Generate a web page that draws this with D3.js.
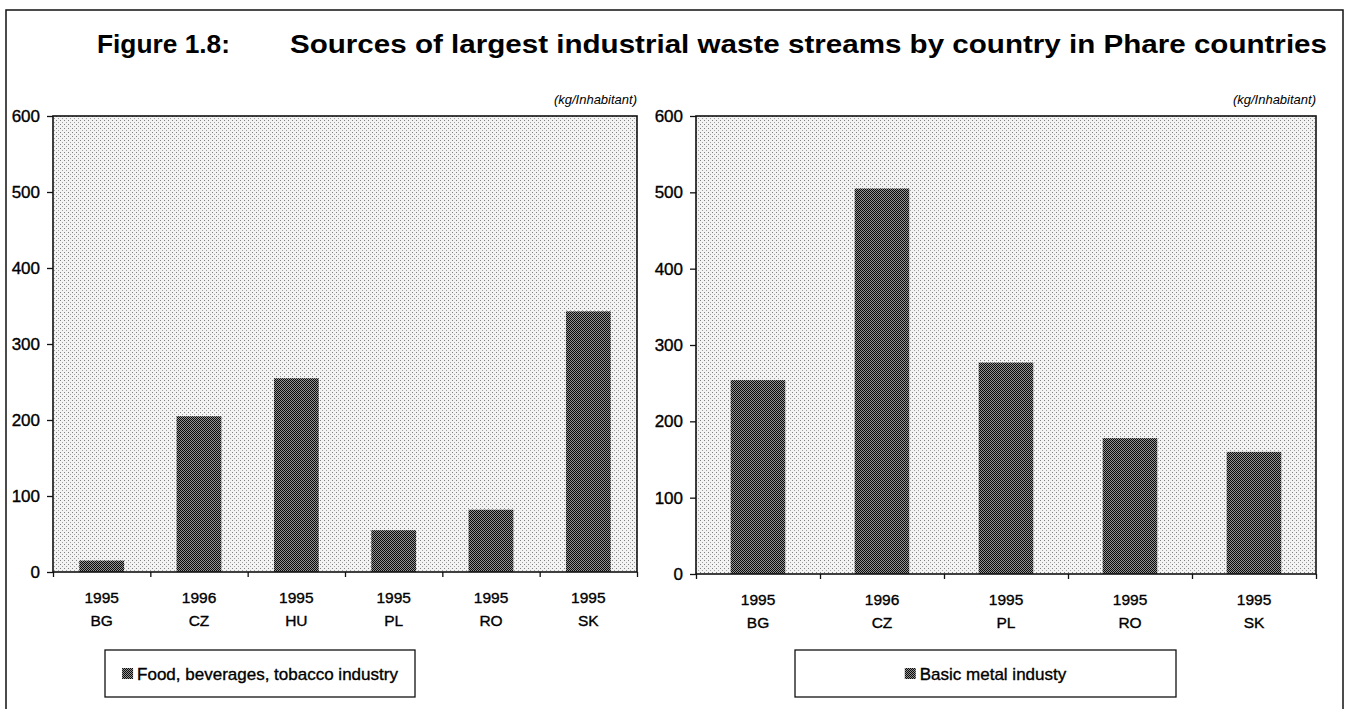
<!DOCTYPE html>
<html>
<head>
<meta charset="utf-8">
<script src="https://cdn.jsdelivr.net/npm/d3@7"></script>
<style>
	body { margin: 0; background: #fff; }
	text { font-family: "Liberation Sans", Arial, sans-serif; fill: #000; }
	.heavy { stroke: #000; stroke-width: 0.35px; }
</style>
</head>
<body>
<div id="chart"></div>
<script>

// Left panel: food, beverages, tobacco industry
const leftCountries = ["BG", "CZ", "HU", "PL", "RO", "SK"];
const leftYears = ["1995", "1996", "1995", "1995", "1995", "1995"];
const leftValues = [15, 205, 255, 55, 82, 343];
const leftSeries = "Food, beverages, tobacco industry";

// Right panel: basic metal industry
const rightCountries = ["BG", "CZ", "PL", "RO", "SK"];
const rightYears = ["1995", "1996", "1995", "1995", "1995"];
const rightValues = [254, 505, 277, 178, 160];
const rightSeries = "Basic metal industy";

const yTicks = [0, 100, 200, 300, 400, 500, 600];
const unitLabel = "(kg/Inhabitant)";
const figLabel = "Figure 1.8:";
const titleText = "Sources of largest industrial waste streams by country in Phare countries";

const W = 1347, H = 709;

const svg = d3.select("#chart").append("svg")
	.attr("width", W)
	.attr("height", H);

// patterns to mimic the printed halftone
const defs = svg.append("defs");

const bg = defs.append("pattern")
	.attr("id", "bgPat")
	.attr("width", 4).attr("height", 4)
	.attr("patternUnits", "userSpaceOnUse");
bg.append("rect").attr("width", 4).attr("height", 4).attr("fill", "#f3f3f3");
bg.append("rect").attr("x", 0).attr("y", 0).attr("width", 1).attr("height", 1).attr("fill", "#808080");
bg.append("rect").attr("x", 2).attr("y", 2).attr("width", 1).attr("height", 1).attr("fill", "#a0a0a0");

const bar = defs.append("pattern")
	.attr("id", "barPat")
	.attr("width", 2).attr("height", 2)
	.attr("patternUnits", "userSpaceOnUse");
bar.append("rect").attr("width", 2).attr("height", 2).attr("fill", "#939393");
bar.append("rect").attr("x", 0).attr("y", 0).attr("width", 1).attr("height", 1).attr("fill", "#0a0a0a");
bar.append("rect").attr("x", 1).attr("y", 1).attr("width", 1).attr("height", 1).attr("fill", "#0a0a0a");

// outer frame (bottom edge runs off the page)
svg.append("rect")
	.attr("x", 6).attr("y", 10)
	.attr("width", 1337).attr("height", 720)
	.attr("fill", "none")
	.attr("stroke", "#111")
	.attr("stroke-width", 1.5);

// title, glyphs stretched a little like the scanned original
svg.append("text")
	.attr("x", 97).attr("y", 53)
	.attr("textLength", 133)
	.attr("lengthAdjust", "spacingAndGlyphs")
	.style("font-size", "25px")
	.style("font-weight", "bold")
	.text(figLabel);

svg.append("text")
	.attr("x", 290).attr("y", 53)
	.attr("textLength", 1037)
	.attr("lengthAdjust", "spacingAndGlyphs")
	.style("font-size", "25px")
	.style("font-weight", "bold")
	.text(titleText);

function drawPanel(cfg) {
	const x = d3.scaleBand()
		.domain(cfg.countries)
		.range([cfg.left, cfg.right])
		.paddingInner(cfg.pad)
		.paddingOuter(cfg.pad / 2);

	const y = d3.scaleLinear()
		.domain([0, 600])
		.range([cfg.bottom, cfg.top]);

	const g = svg.append("g");

	// plot area
	g.append("rect")
		.attr("x", cfg.left)
		.attr("y", y(600))
		.attr("width", cfg.right - cfg.left)
		.attr("height", y(0) - y(600))
		.attr("fill", "url(#bgPat)");

	// bars
	g.selectAll(".bar")
		.data(cfg.values)
		.enter()
		.append("rect")
		.attr("class", "bar")
		.attr("x", (d, i) => x(cfg.countries[i]))
		.attr("y", d => y(d))
		.attr("width", x.bandwidth())
		.attr("height", d => y(0) - y(d))
		.attr("fill", "url(#barPat)");

	// frame of plot area
	g.append("rect")
		.attr("x", cfg.left)
		.attr("y", y(600))
		.attr("width", cfg.right - cfg.left)
		.attr("height", y(0) - y(600))
		.attr("fill", "none")
		.attr("stroke", "#111")
		.attr("stroke-width", 1.6);

	// y axis
	const yAxis = g.append("g")
		.attr("transform", `translate(${cfg.left},0)`)
		.call(d3.axisLeft(y).tickValues(yTicks).tickSize(6).tickPadding(7));
	yAxis.select(".domain").remove();
	yAxis.selectAll("line").attr("stroke", "#111").attr("stroke-width", 1.3);
	yAxis.selectAll("text")
		.attr("class", "heavy")
		.style("font-size", "17px")
		.style("font-family", "'Liberation Sans', Arial, sans-serif");

	// x axis tick marks sit on the category boundaries
	const xb = d3.scaleLinear()
		.domain([0, cfg.countries.length])
		.range([cfg.left, cfg.right]);
	const xTicks = g.append("g")
		.attr("transform", `translate(0,${cfg.bottom})`)
		.call(d3.axisBottom(xb).tickValues(d3.range(cfg.countries.length + 1)).tickSize(5).tickFormat(""));
	xTicks.select(".domain").remove();
	xTicks.selectAll("line").attr("stroke", "#111").attr("stroke-width", 1.3);

	// category labels: year over country
	const xAxis = g.append("g")
		.attr("transform", `translate(0,${cfg.bottom})`)
		.call(d3.axisBottom(x).tickSize(0).tickFormat(""));
	xAxis.select(".domain").remove();
	xAxis.selectAll(".tick").each(function(d, i) {
		const t = d3.select(this).append("text")
			.attr("class", "heavy")
			.attr("text-anchor", "middle")
			.style("font-size", "15.5px");
		t.append("tspan").attr("x", 0).attr("y", 31).text(cfg.years[i]);
		t.append("tspan").attr("x", 0).attr("y", 54).text(d);
	});

	// unit label
	g.append("text")
		.attr("x", cfg.right)
		.attr("y", cfg.top - 12)
		.attr("text-anchor", "end")
		.style("font-size", "13px")
		.style("font-style", "italic")
		.text(unitLabel);

	// legend box
	const lg = g.append("g");
	lg.append("rect")
		.attr("x", cfg.legend[0])
		.attr("y", 650)
		.attr("width", cfg.legend[1] - cfg.legend[0])
		.attr("height", 47)
		.attr("fill", "#fff")
		.attr("stroke", "#111")
		.attr("stroke-width", 1.3);

	const lt = lg.append("text")
		.attr("class", "heavy")
		.attr("y", 680)
		.style("font-size", "17px")
		.text(cfg.series);
	const tw = lt.node().getComputedTextLength();
	const total = 12 + 3 + tw;
	const sx = (cfg.legend[0] + cfg.legend[1]) / 2 - total / 2;
	lg.append("rect")
		.attr("x", sx)
		.attr("y", 668)
		.attr("width", 11)
		.attr("height", 11)
		.attr("fill", "url(#barPat)");
	lt.attr("x", sx + 15);
}

drawPanel({
	countries: leftCountries,
	years: leftYears,
	values: leftValues,
	series: leftSeries,
	left: 53, right: 637, top: 116, bottom: 572,
	pad: 0.54,
	legend: [105, 415]
});

drawPanel({
	countries: rightCountries,
	years: rightYears,
	values: rightValues,
	series: rightSeries,
	left: 696, right: 1316, top: 116, bottom: 574,
	pad: 0.56,
	legend: [795, 1176]
});

</script>
</body>
</html>
